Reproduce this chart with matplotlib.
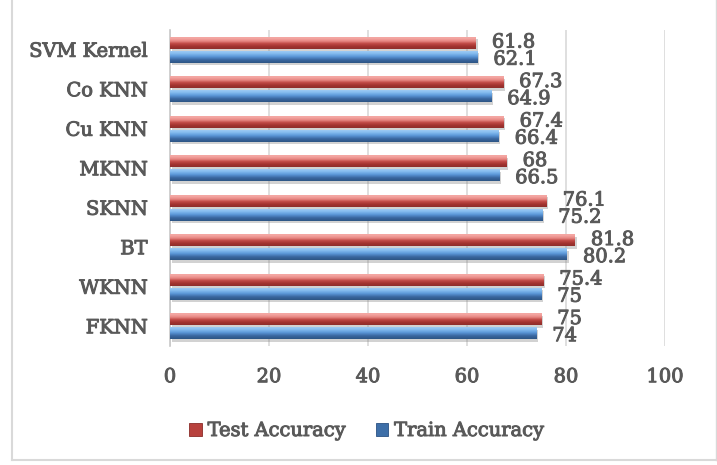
import numpy as np
import matplotlib
matplotlib.use("Agg")
import matplotlib.pyplot as plt
from matplotlib.colors import LinearSegmentedColormap
from matplotlib.patches import Rectangle
from matplotlib.lines import Line2D
import matplotlib.patheffects as pe

# Data (bottom to top)
categories = ["FKNN", "WKNN", "BT", "SKNN", "MKNN", "Cu KNN", "Co KNN", "SVM Kernel"]
test_acc = [75, 75.4, 81.8, 76.1, 68, 67.4, 67.3, 61.8]
train_acc = [74, 75, 80.2, 75.2, 66.5, 66.4, 64.9, 62.1]
x_ticks = [0, 20, 40, 60, 80, 100]

TEXT = "#595959"
FONT = "DejaVu Serif"
FS = 14

plt.rcParams["font.family"] = [FONT]

# slightly heavier text strokes
heavy = [pe.withStroke(linewidth=0.7, foreground=TEXT)]

fig = plt.figure(figsize=(7.17, 4.65), dpi=100)
fig.patch.set_facecolor("white")
W, H = 717, 465
ax = fig.add_axes([170 / W, 1 - 346 / H, 495 / W, 316 / H])

# cylinder-like shading, bottom (0) to top (1)
red_cmap = LinearSegmentedColormap.from_list(
    "red3d", [(0.0, "#8e2e2b"), (0.2, "#a2322f"), (0.42, "#c04a46"),
              (0.62, "#e88884"), (0.85, "#f5a9a5"), (1.0, "#f0a09c")])
blue_cmap = LinearSegmentedColormap.from_list(
    "blue3d", [(0.0, "#2d5584"), (0.25, "#3a67a0"), (0.5, "#5b97d8"),
               (0.75, "#86bdf0"), (1.0, "#a7d0f5")])

y = np.arange(len(categories))
h = 0.31
off = 0.175

shadow = [pe.SimplePatchShadow(offset=(1.2, -1.8), shadow_rgbFace="#7f7f7f", alpha=0.35),
          pe.Normal()]

grad = np.linspace(0, 1, 64).reshape(-1, 1)


def shaded_bars(values, ypos, cmap, base):
    bars = ax.barh(ypos, values, height=h, color=base, zorder=3)
    for b in bars:
        b.set_path_effects(shadow)
        x0, y0 = b.get_x(), b.get_y()
        im = ax.imshow(grad, extent=[x0, x0 + b.get_width(), y0, y0 + b.get_height()],
                       origin="lower", aspect="auto", cmap=cmap, zorder=4,
                       interpolation="bilinear")
        im.set_clip_path(b)
    return bars


shaded_bars(test_acc, y + off, red_cmap, "#c0504d")
shaded_bars(train_acc, y - off, blue_cmap, "#4f81bd")

for i, (t, r) in enumerate(zip(test_acc, train_acc)):
    ax.annotate(f"{t:g}", xy=(t, y[i] + off), xytext=(11.5, 0.2), textcoords="offset points",
                va="center", ha="left", fontsize=FS, color=TEXT, zorder=6,
                path_effects=heavy)
    ax.annotate(f"{r:g}", xy=(r, y[i] - off), xytext=(11.5, -2.2), textcoords="offset points",
                va="center", ha="left", fontsize=FS, color=TEXT, zorder=6,
                path_effects=heavy)

ax.set_xlim(0, 100)
ax.set_ylim(-0.5, len(categories) - 0.5)
ax.set_xticks(x_ticks)
ax.set_xticklabels([str(v) for v in x_ticks])
ax.set_yticks(y)
ax.set_yticklabels(categories)
ax.tick_params(axis="both", length=0, labelsize=FS, labelcolor=TEXT)
ax.tick_params(axis="x", pad=16)
ax.tick_params(axis="y", pad=16)
for lbl in ax.get_xticklabels() + ax.get_yticklabels():
    lbl.set_path_effects(heavy)

ax.grid(axis="x", color="#d9d9d9", linewidth=1.2, zorder=0)
ax.set_axisbelow(True)
for s in ["top", "right", "bottom"]:
    ax.spines[s].set_visible(False)
ax.spines["left"].set_color("#c8c8c8")
ax.spines["left"].set_linewidth(1.2)
ax.set_facecolor("white")

# legend
handles = [Rectangle((0, 0), 1, 1, facecolor="#b8413d", edgecolor="#8a2c29", linewidth=0.6),
           Rectangle((0, 0), 1, 1, facecolor="#3e6fa8", edgecolor="#2b5283", linewidth=0.6)]
leg = fig.legend(handles, ["Test Accuracy", "Train Accuracy"], loc="center",
                 bbox_to_anchor=(367 / W, 1 - 431 / H), ncol=2, frameon=False,
                 fontsize=FS, labelcolor=TEXT, handlelength=0.65, handleheight=0.65,
                 handletextpad=0.3, columnspacing=1.5)
for t in leg.get_texts():
    t.set_path_effects(heavy)

# outer chart frame
col = "#d9d9d9"
fig.add_artist(Line2D([12 / W, 12 / W], [1, 1 - 460 / H], transform=fig.transFigure, color=col, lw=1.5))
fig.add_artist(Line2D([12 / W, 716 / W], [1 - 460 / H, 1 - 460 / H], transform=fig.transFigure, color=col, lw=1.5))
fig.add_artist(Line2D([716 / W, 716 / W], [1, 1 - 460 / H], transform=fig.transFigure, color=col, lw=1.0))

fig.savefig("out.png", dpi=100, facecolor="white")
